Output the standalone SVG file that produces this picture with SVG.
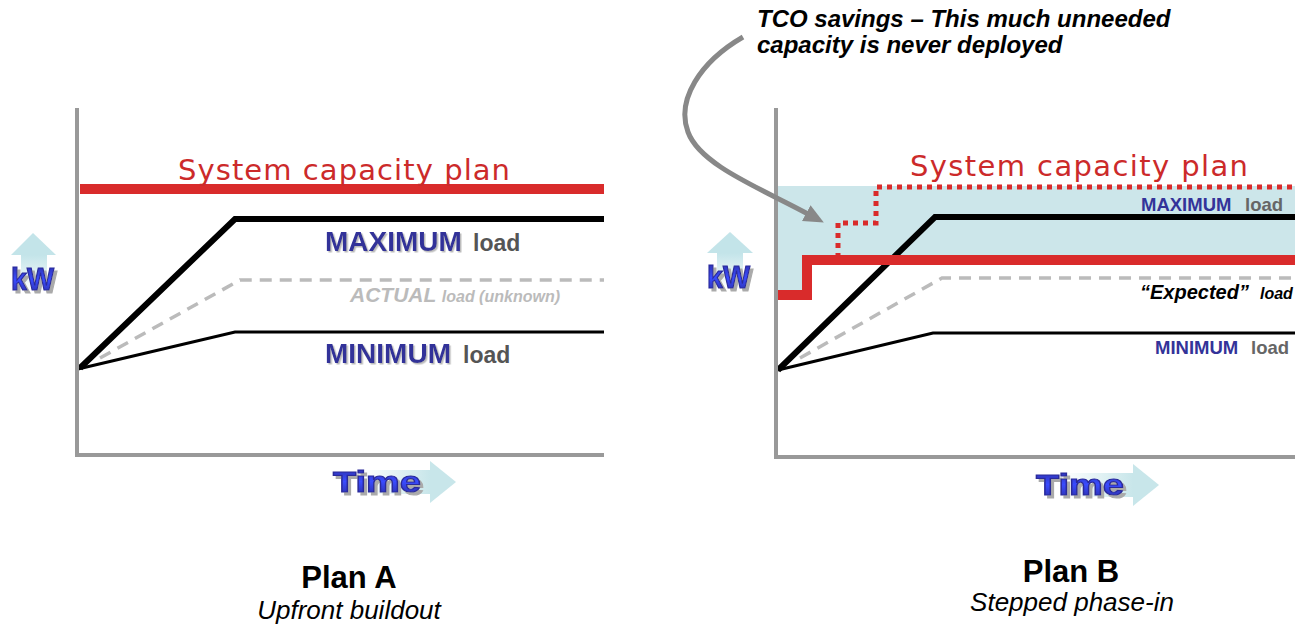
<svg xmlns="http://www.w3.org/2000/svg" width="1302" height="625" viewBox="0 0 1302 625">
<defs>
<style>
.axis{stroke:#999;stroke-width:4;fill:none}
.cap{stroke:#d92b2b;stroke-width:10;fill:none}
.max{stroke:#000;stroke-width:6;fill:none;stroke-linejoin:miter}
.act{stroke:#bbb;stroke-width:3.5;fill:none;stroke-dasharray:12 8}
.min{stroke:#000;stroke-width:3;fill:none}
.dot{stroke:#d92b2b;stroke-width:5;fill:none;stroke-dasharray:5 5}
.sys{font-family:"DejaVu Sans",Verdana,sans-serif;fill:#cc2a2a}
.b{font-family:"Liberation Sans",Arial,sans-serif;font-weight:bold}
.blue{fill:#333399}
.gray{fill:#555}
.big{font-family:"Liberation Sans",Arial,sans-serif;font-weight:bold;fill:url(#tg);stroke:#2a2a9a;stroke-width:1.2}
.plan{font-family:"Liberation Sans",Arial,sans-serif;font-weight:bold;font-size:31px;fill:#000}
.sub{font-family:"Liberation Sans",Arial,sans-serif;font-style:italic;font-size:26px;fill:#000}
</style>
<filter id="ts" x="-10%" y="-20%" width="130%" height="150%">
<feDropShadow dx="1.5" dy="1.5" stdDeviation="0.3" flood-color="#bbb" flood-opacity="1"/>
</filter>
<filter id="bs" x="-10%" y="-20%" width="130%" height="150%">
<feDropShadow dx="3" dy="3" stdDeviation="0.5" flood-color="#aaa" flood-opacity="1"/>
</filter>
<linearGradient id="tg" x1="0" y1="0" x2="0" y2="1">
<stop offset="0" stop-color="#2a2a9c"/><stop offset="0.5" stop-color="#3a4cff"/><stop offset="1" stop-color="#2a2a9c"/>
</linearGradient>
<linearGradient id="up" x1="0" y1="0" x2="0" y2="1">
<stop offset="0" stop-color="#c3e4e9"/><stop offset="1" stop-color="#ffffff"/>
</linearGradient>
<linearGradient id="rt" x1="0" y1="0" x2="1" y2="0">
<stop offset="0" stop-color="#ffffff"/><stop offset="1" stop-color="#c8e6ea"/>
</linearGradient>
<marker id="ah" markerUnits="userSpaceOnUse" viewBox="0 0 20 20" refX="2" refY="10" markerWidth="20" markerHeight="20" orient="auto">
<path d="M0,1 L20,10 L0,19 z" fill="#888"/>
</marker>
</defs>
<rect width="1302" height="625" fill="#fff"/>

<g id="planA">
<line class="cap" x1="80" y1="189" x2="604" y2="189"/>
<polyline class="act" points="100,358 240,280 604,280"/>
<polyline class="min" points="78,369 235,332 604,332"/>
<polyline class="max" points="80,368 235,219 604,219"/>
<polyline class="axis" points="77,108 77,455 604,455"/>
<text class="sys" x="178" y="180" font-size="29" textLength="332">System capacity plan</text>
<text class="b blue" x="325" y="251" font-size="28" filter="url(#ts)">MAXIMUM</text>
<text class="b gray" x="473" y="251" font-size="23">load</text>
<text class="b" x="350" y="302" font-size="21" font-style="italic" fill="#bbb">ACTUAL <tspan font-size="16">load (unknown)</tspan></text>
<text class="b blue" x="325" y="363" font-size="28" filter="url(#ts)">MINIMUM</text>
<text class="b gray" x="463" y="363" font-size="23">load</text>
<g id="kwA">
<polygon points="11,255 33,233 56,255" fill="#c3e4e9"/>
<rect x="21" y="255" width="26" height="36" fill="url(#up)"/>
<text class="big" x="11" y="290" font-size="31" textLength="43" lengthAdjust="spacingAndGlyphs" filter="url(#bs)">kW</text>
</g>
<g id="timeA">
<rect x="360" y="470" width="70" height="24" fill="url(#rt)"/>
<polygon points="430,461 456,482 430,503" fill="#c8e6ea"/>
<text class="big" x="333" y="492" font-size="30" textLength="88" lengthAdjust="spacingAndGlyphs" filter="url(#bs)">Time</text>
</g>
<text class="plan" x="349" y="588" text-anchor="middle">Plan A</text>
<text class="sub" x="349" y="619" text-anchor="middle">Upfront buildout</text>
</g>

<g id="planB">
<path d="M778,186 H1295 V260 H807 V295 H778 Z" fill="#cce6ea"/>
<polyline class="dot" points="838,258 838,223 876,223 876,187 1295,187"/>
<polyline class="act" points="800,358 942,278 1295,278"/>
<polyline class="min" points="778,370 933,333 1295,333"/>
<polyline class="max" points="778,370 935,217 1295,217"/>
<polyline class="cap" points="778,295 807,295 807,260 1295,260" stroke-width="9"/>
<polyline class="axis" points="776,108 776,457 1295,457"/>
<text class="sys" x="910" y="176" font-size="29" textLength="338">System capacity plan</text>
<text class="b blue" x="1141" y="211" font-size="18.5">MAXIMUM</text>
<text class="b" x="1245" y="211" font-size="18.5" fill="#666">load</text>
<text class="b" x="1140" y="299" font-size="20" font-style="italic" fill="#000">“Expected”</text>
<text class="b" x="1260" y="299" font-size="16" font-style="italic" fill="#000">load</text>
<text class="b blue" x="1155" y="354" font-size="18.5">MINIMUM</text>
<text class="b" x="1251" y="354" font-size="18.5" fill="#666">load</text>
<g id="kwB">
<polygon points="707,253 730,232 753,253" fill="#c3e4e9"/>
<rect x="717" y="253" width="26" height="36" fill="url(#up)"/>
<text class="big" x="707" y="288" font-size="31" textLength="43" lengthAdjust="spacingAndGlyphs" filter="url(#bs)">kW</text>
</g>
<g id="timeB">
<rect x="1063" y="473" width="70" height="24" fill="url(#rt)"/>
<polygon points="1133,464 1159,485 1133,506" fill="#c8e6ea"/>
<text class="big" x="1036" y="495" font-size="30" textLength="88" lengthAdjust="spacingAndGlyphs" filter="url(#bs)">Time</text>
</g>
<text class="plan" x="1071" y="582" text-anchor="middle">Plan B</text>
<text class="sub" x="1072" y="611" text-anchor="middle">Stepped phase-in</text>
</g>

<g id="callout">
<text class="b" x="757" y="27" font-size="24" font-style="italic" fill="#000">TCO savings – This much unneeded</text>
<text class="b" x="757" y="53" font-size="24" font-style="italic" fill="#000">capacity is never deployed</text>
</g>

<g id="connectors">
<path d="M743,37 C700,62 676,100 688,132 C700,165 760,188 808,214" fill="none" stroke="#888" stroke-width="5" marker-end="url(#ah)"/>
</g>
</svg>
